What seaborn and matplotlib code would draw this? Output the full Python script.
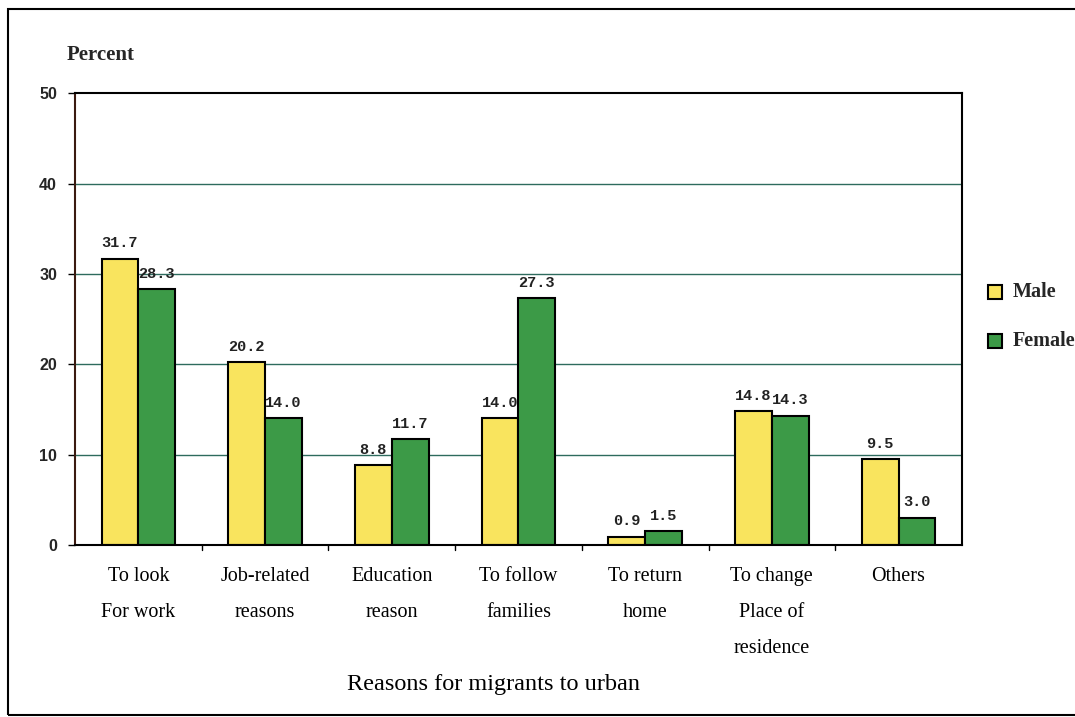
import pandas as pd
import matplotlib
matplotlib.use("Agg")
import matplotlib.pyplot as plt
import seaborn as sns
from matplotlib.patches import Rectangle

# data
reasons = ["To look\nFor work", "Job-related\nreasons", "Education\nreason",
           "To follow\nfamilies", "To return\nhome", "To change\nPlace of\nresidence",
           "Others"]
male = [31.7, 20.2, 8.8, 14.0, 0.9, 14.8, 9.5]
female = [28.3, 14.0, 11.7, 27.3, 1.5, 14.3, 3.0]
yticks = [0, 10, 20, 30, 40, 50]

df = pd.DataFrame({
    "reason": reasons * 2,
    "sex": ["Male"] * len(reasons) + ["Female"] * len(reasons),
    "value": male + female,
})

sns.set_theme(style="white")
serif = ["Liberation Serif", "DejaVu Serif"]
fig = plt.figure(figsize=(10.75, 7.17), dpi=100)
ax = fig.add_axes([0.0698, 0.240, 0.825, 0.630])

male_c, female_c = "#f9e45e", "#3c9a47"
sns.barplot(data=df, x="reason", y="value", hue="sex", order=reasons,
            hue_order=["Male", "Female"],
            palette={"Male": male_c, "Female": female_c}, saturation=1,
            width=0.58, edgecolor="black", linewidth=1.5, ax=ax, legend=False)

# value labels
for cont in ax.containers:
    ax.bar_label(cont, labels=[f"{v:.1f}" for v in cont.datavalues], padding=6,
                 fontsize=11, fontfamily="Liberation Mono", fontweight="bold",
                 color="#222222")

ax.set_ylim(0, 50)
ax.set_xlim(-0.5, len(reasons) - 0.5)
ax.set_yticks(yticks)
ax.set_yticklabels([str(t) for t in yticks], fontsize=11.5, fontweight="bold",
                   fontfamily="Liberation Sans")
for y in yticks[1:-1]:
    ax.axhline(y, color="#2e6b5e", lw=1, zorder=0)

ax.tick_params(axis="y", left=True, length=5, width=1, color="black", pad=8)
ax.tick_params(axis="x", bottom=False, pad=10)
ax.set_xticks(range(len(reasons)))
ax.set_xticklabels(reasons, fontfamily=serif, fontsize=14.5, linespacing=2.2,
                   va="top", color="black")
# small separator ticks between groups
for b in [i + 0.5 for i in range(len(reasons) - 1)]:
    ax.plot([b, b], [0, -0.6], color="black", lw=1, clip_on=False)

for s in ["top", "left", "right", "bottom"]:
    ax.spines[s].set_visible(True)
    ax.spines[s].set_color("black")
    ax.spines[s].set_linewidth(1.5)
ax.spines["left"].set_color("#3a1a10")

ax.set_xlabel("")
ax.set_ylabel("")
fig.text(0.062, 0.917, "Percent", fontfamily=serif, fontsize=15, fontweight="bold")
fig.text(0.459, 0.038, "Reasons for migrants to urban", fontfamily=serif,
         fontsize=17.5, ha="center", color="black")

# legend
fig.patches.append(Rectangle((0.919, 0.583), 0.013, 0.020, transform=fig.transFigure,
                             facecolor=male_c, edgecolor="black", lw=1.5))
fig.patches.append(Rectangle((0.919, 0.514), 0.013, 0.020, transform=fig.transFigure,
                             facecolor=female_c, edgecolor="black", lw=1.5))
fig.text(0.942, 0.593, "Male", fontfamily=serif, fontsize=14.5, fontweight="bold",
         va="center")
fig.text(0.942, 0.524, "Female", fontfamily=serif, fontsize=14.5, fontweight="bold",
         va="center")

# outer frame
fig.patches.append(Rectangle((0.007, 0.003), 1.0, 0.985, transform=fig.transFigure,
                             fill=False, edgecolor="black", lw=1.5))

fig.savefig("out.png", dpi=100, facecolor="white")
